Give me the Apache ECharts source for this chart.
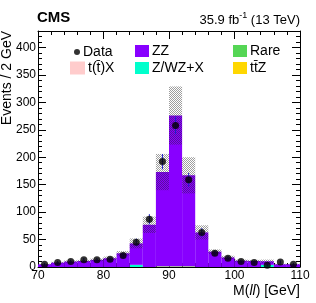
<!DOCTYPE html>
<html><head><meta charset="utf-8">
<script src="https://cdn.jsdelivr.net/npm/echarts@6/dist/echarts.min.js"></script>
<style>html,body{margin:0;padding:0;background:#fff}#c{width:316px;height:303px}</style>
</head><body><div id="c"></div>
<script>
// ---- data ----
const binCenters = [71,73,75,77,79,81,83,85,87,89,91,93,95,97,99,101,103,105,107,109];
const binHalfWidth = 1;
const zz    = [5,8,10,11,13,16,25,39,77,171.7,274.7,165.7,63,28,17.5,11.5,11,6.5,5,5];
const zwzx  = [0,0,0,0,0,0,0,4,0,0,0,0,0,0,0,0,0,4,0,0];
const rare  = [0,0,0,0,0,0,0,0,0,0.8,0.8,0.8,0,0,0,0,0,0,0,0];
const ttz   = [0,0,0,0,0,0,0,0,0,0.5,0.5,0.5,0,0,0,0,0,0,0,0];
const ttx   = [0,0,0,0,0,0,0,0,0,0,0,0,0,0,0,0,0,0,0,0];
const sysUnc   = [1,1.5,2,2,2.5,3,4,9,15,33,53,33,13,4,3,2,2,3,1,1];
const dataVals = [5,8,10,13,13,14,21,45,87,192,258,159,63,25,16,10,8,3,9,5];
const dataErr  = [2.2,2.8,3.2,3.6,3.6,3.7,4.6,6.7,9.3,13.9,16.1,12.6,7.9,5,4,3.2,2.8,1.7,3,2.2];

// ---- build stacked histogram rows ----
const stackOrder = [
  {name:'t(t\u0304)X', vals: ttx,  color:'#ffcccc'},
  {name:'tt\u0304Z',  vals: ttz,  color:'#ffd700'},
  {name:'Rare',       vals: rare, color:'#55d655'},
  {name:'Z/WZ+X',     vals: zwzx, color:'#00ffcc'},
  {name:'ZZ',         vals: zz,   color:'#8800ff'}
];
const cum = binCenters.map(() => 0);
const histSeries = stackOrder.map(s => {
  const rows = binCenters.map((c, i) => {
    const b = cum[i], t = b + s.vals[i];
    cum[i] = t;
    return [c - binHalfWidth, c + binHalfWidth, b, t];
  });
  return {name: s.name, type: 'custom', renderItem: histRender, data: rows,
          encode: {x: [0, 1], y: [2, 3]}, itemStyle: {color: s.color}, z: 2, silent: true};
});
const totals = cum.slice();
const bandRows = binCenters.map((c, i) => [c - binHalfWidth, c + binHalfWidth, totals[i] - sysUnc[i], totals[i] + sysUnc[i]]);
const errRows = binCenters.map((c, i) => [c, dataVals[i] - dataErr[i], dataVals[i] + dataErr[i]]);
const pts = binCenters.map((c, i) => [c, dataVals[i]]);

// hatch pattern
const pc = document.createElement('canvas');
pc.width = 2; pc.height = 2;
const pctx = pc.getContext('2d');
pctx.fillStyle = 'rgba(40,40,40,0.45)';
pctx.fillRect(0, 0, 1, 1); pctx.fillRect(1, 1, 1, 1);

function histRender(params, api) {
  const lo = api.value(0), hi = api.value(1), b = api.value(2), t = api.value(3);
  if (!(t > b)) return null;
  const p1 = api.coord([lo, t]), p2 = api.coord([hi, b]);
  return {type: 'rect', shape: {x: p1[0], y: p1[1], width: p2[0] - p1[0], height: p2[1] - p1[1]},
          style: {fill: api.visual('color')}};
}
function bandRender(params, api) {
  const lo = api.value(0), hi = api.value(1), b = api.value(2), t = api.value(3);
  const p1 = api.coord([lo, t]), p2 = api.coord([hi, Math.max(b, 0)]);
  return {type: 'rect', shape: {x: p1[0], y: p1[1], width: p2[0] - p1[0], height: p2[1] - p1[1]},
          style: {fill: {image: pc, repeat: 'repeat'}}};
}
function errRender(params, api) {
  const x = api.value(0);
  const a = api.coord([x, api.value(1)]), b = api.coord([x, api.value(2)]);
  return {type: 'line', shape: {x1: a[0], y1: a[1], x2: b[0], y2: b[1]},
          style: {stroke: '#2020cc', lineWidth: 1}};
}

const FONT = 'Liberation Sans, Arial, Helvetica, sans-serif';
const axisCommon = {
  axisLine: {show: true, onZero: false, lineStyle: {color: '#000', width: 1}},
  axisTick: {show: true, inside: true, length: 8, lineStyle: {color: '#000'}},
  minorTick: {show: true, splitNumber: 5, length: 4, lineStyle: {color: '#000'}},
  splitLine: {show: false}
};
function legendItem(name, left, top, icon, w, h) {
  return {show: true, selectedMode: false, left: left, top: top, orient: 'horizontal',
          itemWidth: w, itemHeight: h, data: [{name: name, icon: icon}],
          textStyle: {fontFamily: FONT, fontSize: 14, color: '#000', padding: [0,0,0,-2]}};
}

const chart = echarts.init(document.getElementById('c'), null, {renderer: 'canvas'});
chart.setOption({
  animation: false,
  backgroundColor: '#fff',
  grid: {left: 38, right: 16, top: 31, bottom: 36, containLabel: false},
  xAxis: [
    Object.assign({type: 'value', min: 70, max: 110, interval: 10, position: 'bottom',
      axisLabel: {fontFamily: FONT, fontSize: 12, color: '#000', margin: 3}}, axisCommon),
    Object.assign({type: 'value', min: 70, max: 110, interval: 10, position: 'top',
      axisLabel: {show: false}}, axisCommon)
  ],
  yAxis: [
    Object.assign({type: 'value', min: 0, max: 430, interval: 50, position: 'left',
      axisLabel: {fontFamily: FONT, fontSize: 12, color: '#000', margin: 2, showMaxLabel: false}}, axisCommon),
    Object.assign({type: 'value', min: 0, max: 430, interval: 50, position: 'right',
      axisLabel: {show: false}}, axisCommon)
  ],
  legend: [
    legendItem('Data', 69, 40, 'circle', 6, 6),
    legendItem('t(t\u0304)X', 65, 56, 'rect', 15, 13),
    legendItem('ZZ', 130, 39, 'rect', 14, 12),
    legendItem('Z/WZ+X', 130, 56, 'rect', 14, 12),
    legendItem('Rare', 228, 39, 'rect', 14, 12),
    legendItem('tt\u0304Z', 228, 56, 'rect', 14, 12)
  ],
  series: histSeries.concat([
    {name: 'unc', type: 'custom', renderItem: bandRender, data: bandRows,
     encode: {x: [0, 1], y: [2, 3]}, z: 3, silent: true},
    {name: 'err', type: 'custom', renderItem: errRender, data: errRows,
     encode: {x: 0, y: [1, 2]}, z: 4, silent: true},
    {name: 'Data', type: 'scatter', data: pts, symbol: 'circle', symbolSize: 7,
     itemStyle: {color: '#000'}, z: 5, silent: true}
  ]),
  graphic: [
    {type: 'text', left: 37, top: 10, style: {text: 'CMS', fontFamily: FONT, fontSize: 15, fontWeight: 'bold', fill: '#000'}},
    {type: 'text', right: 16, top: 11, style: {
      text: '{a|35.9 fb}{s|-1}{a| (13 TeV)}', fill: '#000',
      rich: {a: {fontFamily: FONT, fontSize: 13, lineHeight: 16, verticalAlign: 'bottom'},
             s: {fontFamily: FONT, fontSize: 9, lineHeight: 16, verticalAlign: 'top'}}}},
    {type: 'text', right: 16, top: 284, style: {
      text: '{a|M(}{i|ll}{a|) [GeV]}', fill: '#000',
      rich: {a: {fontFamily: FONT, fontSize: 14}, i: {fontFamily: FONT, fontSize: 14, fontStyle: 'italic'}}}},
    {type: 'text', x: 7, y: 31, rotation: Math.PI / 2, style: {
      text: 'Events / 2 GeV', fontFamily: FONT, fontSize: 14, fill: '#000', align: 'right', verticalAlign: 'middle'}}
  ]
});
</script></body></html>
